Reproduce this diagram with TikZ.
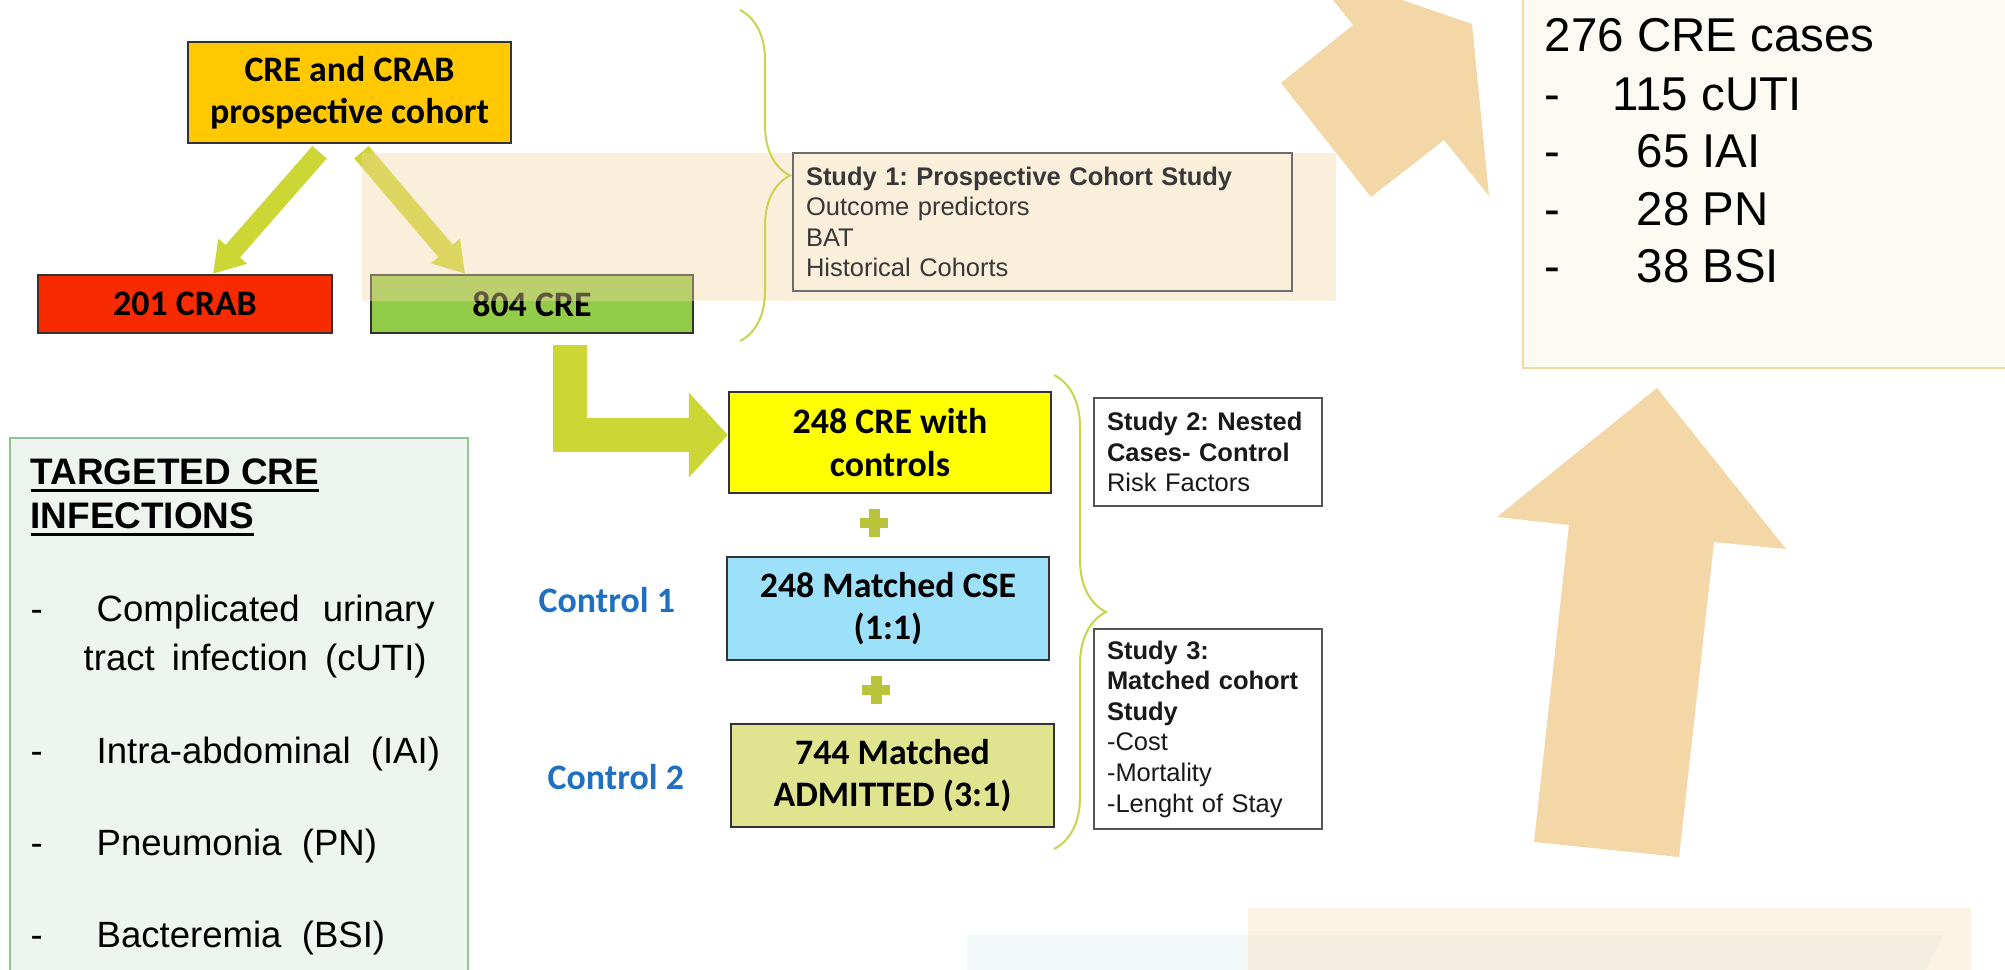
\documentclass[tikz,border=0pt]{standalone}
\usepackage{fontspec}
\setmainfont{Liberation Sans}
\newfontfamily\calibri{Carlito}
\usepackage{xcolor}
\usetikzlibrary{arrows.meta, decorations.pathreplacing}

\definecolor{topc}{HTML}{FFC800}
\definecolor{crabc}{HTML}{F82A00}
\definecolor{crec}{HTML}{92CC48}
\definecolor{cwcc}{HTML}{FFFF00}
\definecolor{csec}{HTML}{9CE0FA}
\definecolor{admc}{HTML}{E0E48E}
\definecolor{boxline}{HTML}{333333}
\definecolor{studyline}{HTML}{555555}
\definecolor{arrc}{HTML}{CCD634}
\definecolor{plusc}{HTML}{BAC43A}
\definecolor{bracec}{HTML}{C8D44E}
\definecolor{ctrlc}{HTML}{1F70C1}
\definecolor{beigec}{HTML}{F4D7A6}
\definecolor{greenbg}{HTML}{EEF5EE}
\definecolor{greenbd}{HTML}{90C490}
\definecolor{casebg}{HTML}{FDFAF3}
\definecolor{bluebg}{HTML}{F3F8F9}

\newcommand{\thickul}[1]{\setbox0\hbox{#1}\rlap{\rule[-2.1pt]{\wd0}{0.9pt}}\box0}
\frenchspacing

\begin{document}
\begin{tikzpicture}[
  x=0.1mm, y=-0.1mm,
  every node/.style={align=center},
  box/.style={rectangle, draw=boxline, line width=0.25mm, inner sep=0, font=\calibri\bfseries\fontsize{10.2}{12}\selectfont},
  study/.style={rectangle, draw=studyline, line width=0.2mm, fill=white, align=left, text=black!90, inner xsep=1.35mm, inner ysep=0, font=\fontsize{7.25}{8.7}\selectfont},
  ctrl/.style={anchor=base west, inner sep=0, text=ctrlc, font=\calibri\bfseries\fontsize{10.2}{12}\selectfont},
  txt/.style={anchor=base west, inner sep=0, font=\fontsize{10.4}{12}\selectfont},
  big/.style={anchor=base west, inner sep=0, font=\fontsize{13.5}{16}\selectfont},
  blockarr/.style={draw=arrc, line width=1.9mm, -{Triangle[length=3mm,width=3.6mm]}},
  brc/.style={draw=bracec, line width=0.2mm, decorate, decoration={brace, amplitude=5mm}},
  plusmark/.style={minimum size=2.8mm, inner sep=0, path picture={
    \fill[plusc] ([xshift=-1.4mm,yshift=-0.5mm]path picture bounding box.center) rectangle ([xshift=1.4mm,yshift=0.5mm]path picture bounding box.center);
    \fill[plusc] ([xshift=-0.55mm,yshift=-1.4mm]path picture bounding box.center) rectangle ([xshift=0.55mm,yshift=1.4mm]path picture bounding box.center);}}
]
  \useasboundingbox (0,0) rectangle (2005,970);
  \clip (0,0) rectangle (2005,970);
  \fill[white] (0,0) rectangle (2005,970);

  % background shapes
  \fill[beigec] (1325,-10) -- (1353,25) -- (1281,83) -- (1371,197) -- (1444,140) -- (1489,196) -- (1472,24) -- (1373,-10) -- cycle;
  \fill[beigec] (1657,388) -- (1497,517) -- (1569,525) -- (1534,842) -- (1679,857) -- (1714,542) -- (1786,549) -- cycle;
  \filldraw[fill=casebg, draw=beigec, line width=0.22mm] (1523,-10) rectangle (2020,368);
  \fill[bluebg] (967,935) -- (1943,935) -- (1920,980) -- (967,980) -- cycle;
  \fill[beigec, opacity=0.3] (1248,908) rectangle (1971,980);
  \filldraw[fill=greenbg, draw=greenbd, line width=0.2mm] (10,438) rectangle (468,990);

  % cohort boxes
  \node[box, fill=topc, minimum width=32.3mm, minimum height=10.1mm] (top) at (349.5,92.5) {CRE and CRAB\\prospective cohort};
  \node[box, fill=crabc, minimum width=29.4mm, minimum height=5.8mm] (crab) at (185,304) {201 CRAB};
  \node[box, fill=crec, minimum width=32.2mm, minimum height=5.8mm] (cre) at (532,304) {804 CRE};
  \node[box, fill=cwcc, minimum width=32.2mm, minimum height=10.1mm] (cwc) at (890,442.5) {248 CRE with\\controls};
  \node[box, fill=csec, minimum width=32.2mm, minimum height=10.3mm] (cse) at (888,608.5) {248 Matched CSE\\(1:1)};
  \node[box, fill=admc, minimum width=32.3mm, minimum height=10.3mm] (adm) at (892.5,775.5) {744 Matched\\ADMITTED (3:1)};

  \node[plusmark] (plus1) at (874,523) {};
  \node[plusmark] (plus2) at (876,690) {};
  \node[ctrl] (ctl1) at (538,613) {Control 1};
  \node[ctrl] (ctl2) at (547,790) {Control 2};

  % arrows
  \draw[blockarr] ([xshift=-3mm,yshift=-0.8mm]top.south) -- ([xshift=2.8mm]crab.north);
  \draw[blockarr] ([xshift=1.2mm,yshift=-0.8mm]top.south) -- ([xshift=-6.7mm]cre.north);
  \draw[blockarr, line width=3.4mm, -{Triangle[length=3.9mm,width=8.3mm]}] ([xshift=3.8mm,yshift=-1.1mm]cre.south) |- ([yshift=0.75mm]cwc.west);

  % translucent band
  \fill[beigec, opacity=0.4] (362,153) rectangle (1336,301);

  % study boxes
  \node[study, fill=none, draw=studyline!85, text=black!78, text width=47.2mm, minimum height=13.8mm] (s1) at (1042,222) {\textbf{Study 1: Prospective Cohort Study}\\Outcome predictors\\BAT\\Historical Cohorts};
  \node[study, text width=20.1mm, minimum height=10.8mm] (s2) at (1207.5,452) {\textbf{Study 2: Nested}\\\textbf{Cases- Control}\\Risk Factors};
  \node[study, text width=20.1mm, minimum height=20mm] (s3) at (1207.5,729) {\textbf{Study 3:}\\\textbf{Matched cohort}\\\textbf{Study}\\-Cost\\-Mortality\\-Lenght of Stay};

  % braces
  \coordinate (b1t) at (740,10);
  \coordinate (b1b) at (740,341);
  \coordinate (b2t) at (1054,375);
  \coordinate (b2b) at (1054,849);
  \draw[brc] (b1t) -- (b1b);
  \draw[brc, decoration={brace, amplitude=5.2mm}] (b2t) -- (b2b);

  % targeted infections
  \node[anchor=base west, inner sep=0, font=\bfseries\fontsize{10.5}{12.5}\selectfont] (ttl1) at (30,485) {\thickul{TARGETED CRE}};
  \node[anchor=base west, inner sep=0, font=\bfseries\fontsize{10.5}{12.5}\selectfont] (ttl2) at (30,529) {\thickul{INFECTIONS}};
  \node[txt] (d1) at (30,622) {-};
  \node[txt] (i1) at (96,622) {\makebox[33.8mm][s]{Complicated urinary}};
  \node[txt] (i1b) at (83,671) {\makebox[34.3mm][s]{tract infection (cUTI)}};
  \node[txt] (d2) at (30,764) {-};
  \node[txt] (i2) at (96,764) {Intra-abdominal\ \ (IAI)};
  \node[txt] (d3) at (30,856) {-};
  \node[txt] (i3) at (96,856) {Pneumonia\ \ (PN)};
  \node[txt] (d4) at (30,947) {-};
  \node[txt] (i4) at (96,947) {Bacteremia\ \ (BSI)};

  % CRE cases
  \node[big] (c0) at (1544,52) {276 CRE cases};
  \node[big] (e1) at (1544,111) {-};
  \node[big] (c1) at (1612,111) {115 cUTI};
  \node[big] (e2) at (1544,168) {-};
  \node[big] (c2) at (1636,168) {65 IAI};
  \node[big] (e3) at (1544,226) {-};
  \node[big] (c3) at (1636,226) {28 PN};
  \node[big] (e4) at (1544,283) {-};
  \node[big] (c4) at (1636,283) {38 BSI};
\end{tikzpicture}
\end{document}
